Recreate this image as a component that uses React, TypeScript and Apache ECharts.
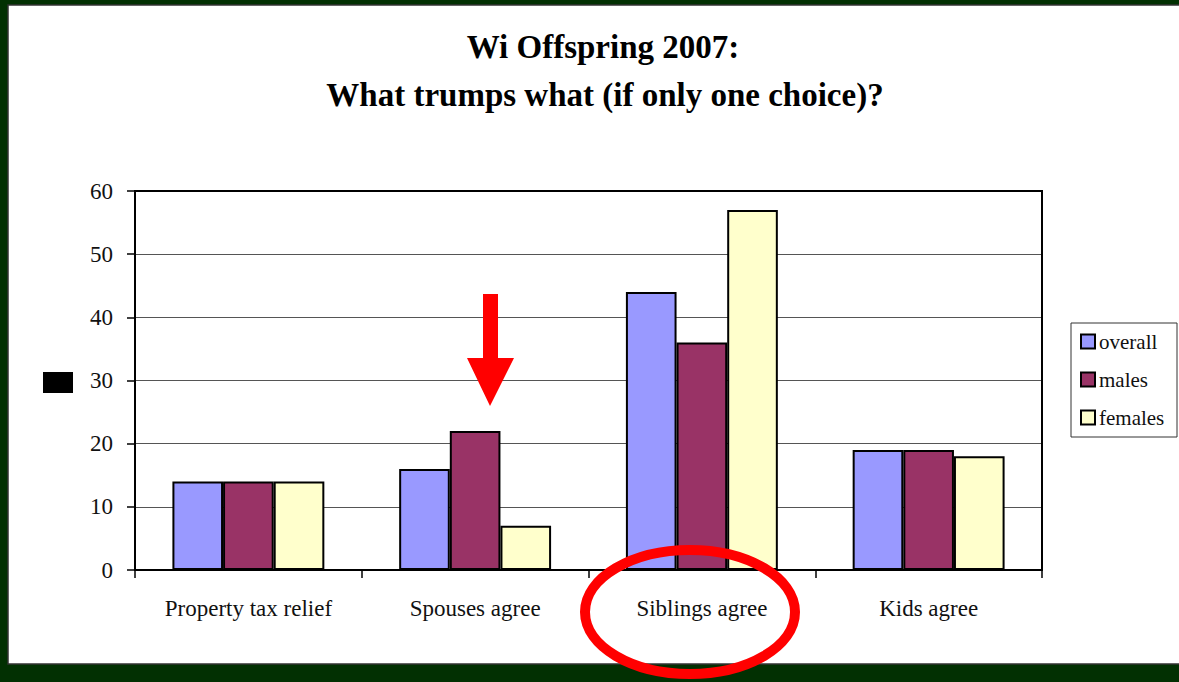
import React, { useEffect, useRef } from "react";
import * as echarts from "echarts";

const categories = ["Property tax relief", "Spouses agree", "Siblings agree", "Kids agree"];
const overall = [14, 16, 44, 19];
const males = [14, 22, 36, 19];
const females = [14, 7, 57, 18];
const seriesNames = ["overall", "males", "females"];
const seriesColors = ["#9999FF", "#993366", "#FFFFCC"];
const titleLines = ["Wi Offspring 2007:", "What trumps what (if only one choice)?"];

const SERIF = '"Liberation Serif", "Times New Roman", serif';

export default function App() {
  const ref = useRef<HTMLDivElement>(null);
  useEffect(() => {
    if (!ref.current) return;
    const chart = echarts.init(ref.current, null, { renderer: "svg" });
    const data = [overall, males, females];
    chart.setOption({
      animation: false,
      backgroundColor: "#023002",
      grid: {
        left: 135,
        top: 191,
        right: 137,
        bottom: 112,
        show: true,
        borderColor: "#000",
        borderWidth: 2,
        backgroundColor: "transparent",
        z: 1,
      },
      legend: {
        orient: "vertical",
        left: 1080,
        top: 331,
        itemWidth: 14,
        itemHeight: 14,
        itemGap: 17,
        icon: "rect",
        padding: 0,
        data: seriesNames,
        itemStyle: { borderColor: "#000", borderWidth: 2 },
        textStyle: { fontFamily: SERIF, fontSize: 21, color: "#111", padding: [0, 0, 0, -1] },
      },
      xAxis: {
        type: "category",
        data: categories,
        axisLine: { lineStyle: { color: "#000", width: 2 } },
        axisTick: { show: true, length: 8, alignWithLabel: false, lineStyle: { color: "#000", width: 1.5 } },
        axisLabel: { fontFamily: SERIF, fontSize: 23, color: "#111", margin: 27 },
        splitLine: { show: false },
      },
      yAxis: {
        type: "value",
        min: 0,
        max: 60,
        interval: 10,
        axisLine: { show: true, lineStyle: { color: "#000", width: 2 } },
        axisTick: { show: true, length: 8, lineStyle: { color: "#000", width: 1.5 } },
        axisLabel: { fontFamily: SERIF, fontSize: 23, color: "#111", margin: 22 },
        splitLine: { show: true, lineStyle: { color: "#555", width: 1 } },
      },
      series: seriesNames.map((name, i) => ({
        name,
        type: "bar",
        data: data[i],
        barGap: "0%",
        barCategoryGap: "33%",
        itemStyle: { color: seriesColors[i], borderColor: "#000", borderWidth: 2 },
        z: 3,
      })),
      graphic: [
        {
          type: "rect",
          z: -10,
          silent: true,
          shape: { x: 8, y: 5, width: 1180, height: 659 },
          style: { fill: "#fff", stroke: "#333", lineWidth: 1.5 },
        },
        {
          type: "text",
          z: 10,
          style: {
            text: titleLines[0],
            x: 603,
            y: 47,
            align: "center",
            verticalAlign: "middle",
            font: 'bold 33px "Liberation Serif", serif',
            fill: "#000",
          },
        },
        {
          type: "text",
          z: 10,
          style: {
            text: titleLines[1],
            x: 605,
            y: 95,
            align: "center",
            verticalAlign: "middle",
            font: 'bold 33px "Liberation Serif", serif',
            fill: "#000",
          },
        },
        {
          type: "rect",
          z: 10,
          shape: { x: 1071, y: 323, width: 106, height: 114 },
          style: { fill: "transparent", stroke: "#333", lineWidth: 1 },
        },
        {
          type: "rect",
          z: 10,
          shape: { x: 43, y: 372, width: 30, height: 21 },
          style: { fill: "#000" },
        },
        {
          type: "polygon",
          z: 20,
          shape: {
            points: [
              [483, 294],
              [498, 294],
              [498, 358],
              [514, 358],
              [490, 406],
              [467, 358],
              [483, 358],
            ],
          },
          style: { fill: "#FF0000" },
        },
        {
          type: "ellipse",
          z: 20,
          shape: { cx: 690, cy: 612, rx: 105, ry: 62 },
          style: { fill: "none", stroke: "#FF0000", lineWidth: 10 },
        },
      ],
    });
    return () => chart.dispose();
  }, []);
  return (
    <div
      ref={ref}
      style={{ position: "fixed", left: 0, top: 0, width: 1179, height: 682 }}
    />
  );
}
